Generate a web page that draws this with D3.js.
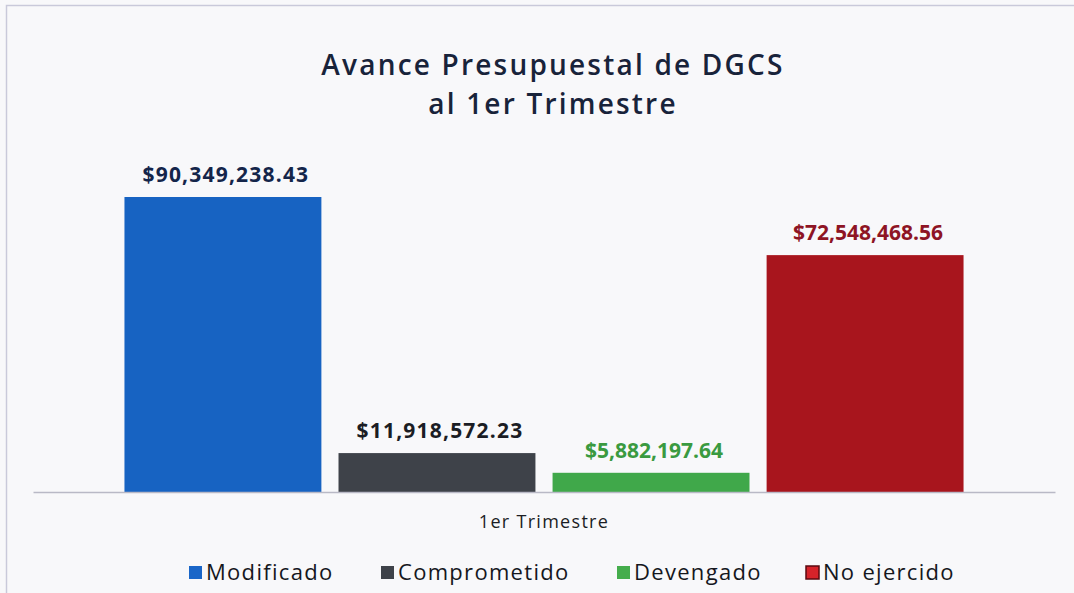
<!DOCTYPE html>
<html>
<head>
<meta charset="utf-8">
<script src="https://cdn.jsdelivr.net/npm/d3@7"></script>
<style>
  body { margin: 0; background: #f8f8fa; }
  svg { display: block; }
</style>
</head>
<body>
<script>
// data
var categories = ["1er Trimestre"];
var series = ["Modificado", "Comprometido", "Devengado", "No ejercido"];
var values = [90349238.43, 11918572.23, 5882197.64, 72548468.56];
var labels = ["$90,349,238.43", "$11,918,572.23", "$5,882,197.64", "$72,548,468.56"];

var barColors = ["#1763c2", "#3e4249", "#40a84a", "#a8151d"];
var labelColors = ["#14254a", "#1b1d24", "#3a9a40", "#8e1424"];
var legendColors = ["#1a66c8", "#3e4249", "#45ad4c", "#d6232a"];
var labelSpacing = [1.2, 1.2, 0, 0];

const W = 1074, H = 593;
const margin = {top: 0, right: 19, bottom: 101, left: 33},
      width = W - margin.left - margin.right,
      baseY = H - margin.bottom;

var svg = d3.select("body").append("svg")
  .attr("width", W)
  .attr("height", H);

// chart frame
svg.append("path")
  .attr("d", "M6.5," + H + "V5.5H" + W)
  .attr("fill", "none")
  .attr("stroke", "#c9c9da")
  .attr("stroke-width", 1.5);

// title
var title = svg.append("text")
  .attr("text-anchor", "middle")
  .attr("font-family", "Open Sans, sans-serif")
  .attr("font-weight", 600)
  .attr("font-size", 28)
  .attr("letter-spacing", 2.2)
  .attr("fill", "#18233a");
title.append("tspan").attr("x", 553).attr("y", 75).text("Avance Presupuestal de DGCS");
title.append("tspan").attr("x", 553).attr("y", 114).text("al 1er Trimestre");

var x0 = d3.scaleBand()
  .domain(categories)
  .range([margin.left, margin.left + width])
  .paddingInner(0)
  .paddingOuter(0.109);

var x1 = d3.scaleBand()
  .domain(series)
  .range([0, x0.bandwidth()])
  .paddingInner(0.08);

var y = d3.scaleLinear()
  .domain([0, 90349238.43])
  .range([baseY, 197]);

var g = svg.append("g");

g.selectAll(".bar")
  .data(values)
  .enter()
  .append("rect")
  .attr("class", "bar")
  .attr("x", function(d, i) { return x0(categories[0]) + x1(series[i]); })
  .attr("y", function(d) { return y(d); })
  .attr("width", x1.bandwidth())
  .attr("height", function(d) { return baseY - y(d); })
  .attr("fill", function(d, i) { return barColors[i]; });

g.selectAll(".lbl")
  .data(values)
  .enter()
  .append("text")
  .attr("class", "lbl")
  .attr("text-anchor", "middle")
  .attr("font-family", "Open Sans, sans-serif")
  .attr("font-weight", 700)
  .attr("font-size", 21)
  .attr("letter-spacing", function(d, i) { return labelSpacing[i]; })
  .attr("fill", function(d, i) { return labelColors[i]; })
  .attr("x", function(d, i) { return x0(categories[0]) + x1(series[i]) + x1.bandwidth() / 2 + 3; })
  .attr("y", function(d) { return y(d) - 15; })
  .text(function(d, i) { return labels[i]; });

// x axis
var xAxis = d3.axisBottom(x0).tickSize(0).tickPadding(23);
var ax = svg.append("g")
  .attr("class", "axis x")
  .attr("transform", "translate(0," + baseY + ")")
  .call(xAxis);
ax.select(".domain").attr("stroke", "#b9b9c6").attr("stroke-width", 1.5);
ax.selectAll("text")
  .attr("font-family", "Open Sans, sans-serif")
  .attr("font-size", 18)
  .attr("letter-spacing", 1.3)
  .attr("fill", "#1b1d24");

// legend
var legX = [189, 381, 617, 806];
var leg = svg.append("g").selectAll("g")
  .data(series)
  .enter()
  .append("g")
  .attr("transform", function(d, i) { return "translate(" + legX[i] + ",566)"; });
leg.append("rect")
  .attr("width", 13).attr("height", 13)
  .attr("fill", function(d, i) { return legendColors[i]; })
  .attr("stroke", function(d, i) { return i == 3 ? "#5a0a10" : "none"; })
  .attr("stroke-width", 1.5);
leg.append("text")
  .attr("x", 17)
  .attr("y", 14)
  .attr("font-family", "Open Sans, sans-serif")
  .attr("font-size", 22)
  .attr("letter-spacing", 1.3)
  .attr("fill", "#15171d")
  .text(function(d) { return d; });
</script>
</body>
</html>
